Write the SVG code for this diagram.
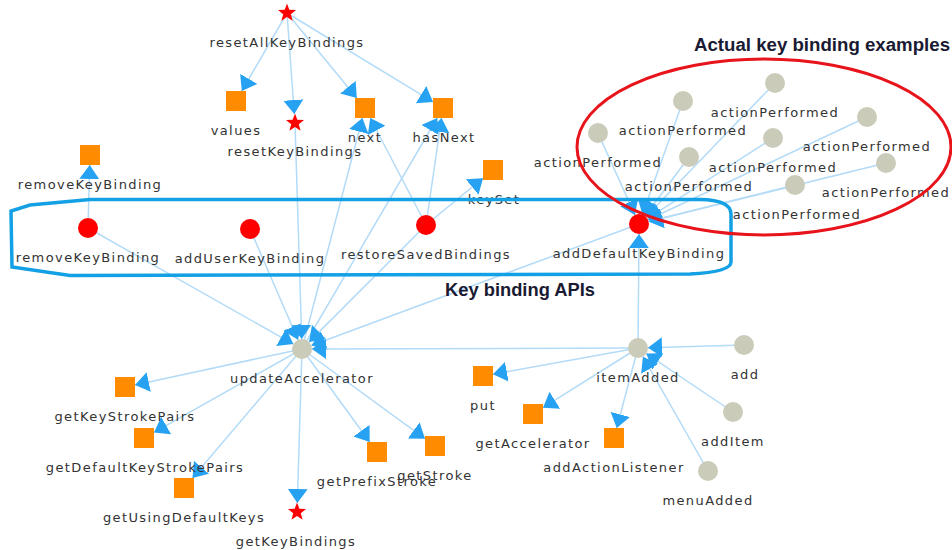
<svg xmlns="http://www.w3.org/2000/svg" width="952" height="550" viewBox="0 0 952 550">
<style>
.e{stroke:#b3dbf8;stroke-width:1.5;fill:none;marker-end:url(#ah)}
.sq{fill:#ff8c00}
.rc{fill:#ff0000}
.gc{fill:#cbcbb9}
.st{fill:#ff0000}
.lbl{font-family:"DejaVu Sans",Verdana,sans-serif;font-size:13px;letter-spacing:1.4px;fill:#333;text-anchor:middle}
.ttl{font-family:"Liberation Sans",Arial,sans-serif;font-weight:bold;font-size:18px;fill:#1a1a33;text-anchor:middle}
</style>
<defs>
<marker id="ah" markerUnits="userSpaceOnUse" markerWidth="14" markerHeight="20" refX="14" refY="10" viewBox="0 0 14 20" orient="auto">
<path d="M0,0 L14,10 L0,20 Z" fill="#27a2f2"/>
</marker>
<path id="star" d="M0,-9.5 L2.351,-3.236 L9.035,-2.936 L3.804,1.236 L5.584,7.686 L0,4 L-5.584,7.686 L-3.804,1.236 L-9.035,-2.936 L-2.351,-3.236 Z"/>
</defs>
<rect width="952" height="550" fill="#ffffff"/>
<g id="connectors">
<line class="e" x1="287" y1="13" x2="241.8" y2="91"/>
<line class="e" x1="287" y1="13" x2="294.3" y2="114"/>
<line class="e" x1="287" y1="13" x2="356.8" y2="98"/>
<line class="e" x1="287" y1="13" x2="433" y2="101.9"/>
<line class="e" x1="302" y1="349" x2="362.4" y2="118"/>
<line class="e" x1="426" y1="225" x2="370.2" y2="118"/>
<line class="e" x1="302" y1="349" x2="437.2" y2="118"/>
<line class="e" x1="426" y1="225" x2="441.5" y2="118"/>
<line class="e" x1="426" y1="225" x2="483" y2="178.2"/>
<line class="e" x1="88" y1="228" x2="89.7" y2="165"/>
<line class="e" x1="88" y1="228" x2="293.3" y2="344.1"/>
<line class="e" x1="250" y1="229" x2="298" y2="339.8"/>
<line class="e" x1="295" y1="123" x2="301.7" y2="339"/>
<line class="e" x1="426" y1="225" x2="309.1" y2="341.9"/>
<line class="e" x1="639" y1="224" x2="311.4" y2="345.5"/>
<line class="e" x1="638" y1="348" x2="312" y2="349"/>
<line class="e" x1="302" y1="349" x2="135" y2="384.9"/>
<line class="e" x1="302" y1="349" x2="154" y2="432.4"/>
<line class="e" x1="302" y1="349" x2="192.5" y2="478"/>
<line class="e" x1="302" y1="349" x2="297.3" y2="503"/>
<line class="e" x1="302" y1="349" x2="369.7" y2="442"/>
<line class="e" x1="302" y1="349" x2="425" y2="438.7"/>
<line class="e" x1="638" y1="348" x2="493" y2="374.2"/>
<line class="e" x1="638" y1="348" x2="543" y2="407.7"/>
<line class="e" x1="638" y1="348" x2="616.7" y2="428"/>
<line class="e" x1="638" y1="348" x2="639" y2="234"/>
<line class="e" x1="744" y1="345" x2="648" y2="347.7"/>
<line class="e" x1="733" y1="412" x2="646.3" y2="353.6"/>
<line class="e" x1="708" y1="471" x2="642.9" y2="356.7"/>
<line class="e" x1="598" y1="133" x2="634.9" y2="214.9"/>
<line class="e" x1="683" y1="101" x2="642.4" y2="214.6"/>
<line class="e" x1="775" y1="83" x2="645.9" y2="216.8"/>
<line class="e" x1="689" y1="157" x2="645" y2="216"/>
<line class="e" x1="773" y1="138" x2="647.4" y2="218.6"/>
<line class="e" x1="867" y1="117" x2="648.1" y2="219.8"/>
<line class="e" x1="886" y1="163" x2="648.7" y2="221.6"/>
<line class="e" x1="795" y1="185" x2="648.7" y2="221.6"/>
</g>
<g id="n-resetAllKeyBindings"><use href="#star" class="st" x="287" y="13"/><text class="lbl" x="287" y="47">resetAllKeyBindings</text></g>
<g id="n-values"><rect class="sq" x="226" y="91" width="20" height="20"/><text class="lbl" x="236" y="135">values</text></g>
<g id="n-resetKeyBindings"><use href="#star" class="st" x="295" y="123"/><text class="lbl" x="295" y="156">resetKeyBindings</text></g>
<g id="n-next"><rect class="sq" x="355" y="98" width="20" height="20"/><text class="lbl" x="365" y="142">next</text></g>
<g id="n-hasNext"><rect class="sq" x="433" y="98" width="20" height="20"/><text class="lbl" x="444" y="142">hasNext</text></g>
<g id="n-keySet"><rect class="sq" x="483" y="160" width="20" height="20"/><text class="lbl" x="494" y="204">keySet</text></g>
<g id="n-removeKeyBinding-call"><rect class="sq" x="80" y="145" width="20" height="20"/><text class="lbl" x="90" y="189">removeKeyBinding</text></g>
<g id="n-removeKeyBinding"><circle class="rc" cx="88" cy="228" r="10"/><text class="lbl" x="88" y="262">removeKeyBinding</text></g>
<g id="n-addUserKeyBinding"><circle class="rc" cx="250" cy="229" r="10"/><text class="lbl" x="250" y="263">addUserKeyBinding</text></g>
<g id="n-restoreSavedBindings"><circle class="rc" cx="426" cy="225" r="10"/><text class="lbl" x="426" y="259">restoreSavedBindings</text></g>
<g id="n-addDefaultKeyBinding"><circle class="rc" cx="639" cy="224" r="10"/><text class="lbl" x="639" y="258">addDefaultKeyBinding</text></g>
<g id="n-updateAccelerator"><circle class="gc" cx="302" cy="349" r="10"/><text class="lbl" x="302" y="383">updateAccelerator</text></g>
<g id="n-itemAdded"><circle class="gc" cx="638" cy="348" r="10"/><text class="lbl" x="638" y="382">itemAdded</text></g>
<g id="n-add"><circle class="gc" cx="744" cy="345" r="10"/><text class="lbl" x="745" y="379">add</text></g>
<g id="n-addItem"><circle class="gc" cx="733" cy="412" r="10"/><text class="lbl" x="733" y="446">addItem</text></g>
<g id="n-menuAdded"><circle class="gc" cx="708" cy="471" r="10"/><text class="lbl" x="708" y="505">menuAdded</text></g>
<g id="n-put"><rect class="sq" x="473" y="366" width="20" height="20"/><text class="lbl" x="483" y="410">put</text></g>
<g id="n-getAccelerator"><rect class="sq" x="523" y="404" width="20" height="20"/><text class="lbl" x="533" y="448">getAccelerator</text></g>
<g id="n-addActionListener"><rect class="sq" x="604" y="428" width="20" height="20"/><text class="lbl" x="614" y="472">addActionListener</text></g>
<g id="n-getKeyStrokePairs"><rect class="sq" x="115" y="377" width="20" height="20"/><text class="lbl" x="125" y="421">getKeyStrokePairs</text></g>
<g id="n-getDefaultKeyStrokePairs"><rect class="sq" x="134" y="428" width="20" height="20"/><text class="lbl" x="145" y="472">getDefaultKeyStrokePairs</text></g>
<g id="n-getUsingDefaultKeys"><rect class="sq" x="174" y="478" width="20" height="20"/><text class="lbl" x="184" y="522">getUsingDefaultKeys</text></g>
<g id="n-getKeyBindings"><use href="#star" class="st" x="297" y="512"/><text class="lbl" x="296" y="546">getKeyBindings</text></g>
<g id="n-getPrefixStroke"><rect class="sq" x="367" y="442" width="20" height="20"/><text class="lbl" x="377" y="486">getPrefixStroke</text></g>
<g id="n-getStroke"><rect class="sq" x="425" y="436" width="20" height="20"/><text class="lbl" x="435" y="480">getStroke</text></g>
<g id="n-actionPerformed-1"><circle class="gc" cx="598" cy="133" r="10"/><text class="lbl" x="598" y="167">actionPerformed</text></g>
<g id="n-actionPerformed-2"><circle class="gc" cx="683" cy="101" r="10"/><text class="lbl" x="683" y="135">actionPerformed</text></g>
<g id="n-actionPerformed-3"><circle class="gc" cx="775" cy="83" r="10"/><text class="lbl" x="775" y="117">actionPerformed</text></g>
<g id="n-actionPerformed-4"><circle class="gc" cx="689" cy="157" r="10"/><text class="lbl" x="689" y="191">actionPerformed</text></g>
<g id="n-actionPerformed-5"><circle class="gc" cx="773" cy="138" r="10"/><text class="lbl" x="773" y="172">actionPerformed</text></g>
<g id="n-actionPerformed-6"><circle class="gc" cx="867" cy="117" r="10"/><text class="lbl" x="867" y="151">actionPerformed</text></g>
<g id="n-actionPerformed-7"><circle class="gc" cx="886" cy="163" r="10"/><text class="lbl" x="886" y="197">actionPerformed</text></g>
<g id="n-actionPerformed-8"><circle class="gc" cx="795" cy="185" r="10"/><text class="lbl" x="797" y="219">actionPerformed</text></g>
<g id="key-binding-apis">
<path d="M30,205 L90,199.5 L700,199.5 Q731,200 731,214 L731,262 Q731,272 690,274 L70,275.5 L12,267 L11,211 Z" fill="none" stroke="#14a0e4" stroke-width="3.5"/>
<text class="ttl" x="520" y="296" textLength="150" lengthAdjust="spacingAndGlyphs">Key binding APIs</text>
</g>
<g id="actual-examples">
<ellipse cx="764" cy="147" rx="187" ry="88" fill="none" stroke="#e8141c" stroke-width="3"/>
<text class="ttl" x="822" y="51" textLength="256" lengthAdjust="spacingAndGlyphs">Actual key binding examples</text>
</g>
</svg>
